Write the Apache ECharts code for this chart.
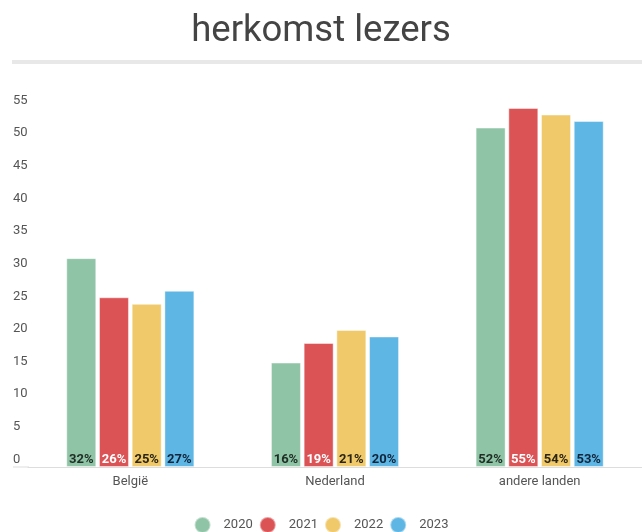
<!DOCTYPE html>
<html>
<head>
<meta charset="utf-8">
<script src="https://cdn.jsdelivr.net/npm/echarts@6/dist/echarts.min.js"></script>
<style>
  html, body { margin: 0; padding: 0; background: #fff; }
  #chart { width: 642px; height: 532px; }
</style>
</head>
<body>
<div id="chart"></div>
<script>
var categories = ['België', 'Nederland', 'andere landen'];
var years = ['2020', '2021', '2022', '2023'];
var values2020 = [32, 16, 52];
var values2021 = [26, 19, 55];
var values2022 = [25, 21, 54];
var values2023 = [27, 20, 53];
var yTicks = [0, 5, 10, 15, 20, 25, 30, 35, 40, 45, 50, 55];

var colors = ['#8fc4a6', '#dc5356', '#f0c96a', '#5db6e4'];
var labelColors = ['#1f2d24', '#ffffff', '#2a2410', '#10243a'];
var allValues = [values2020, values2021, values2022, values2023];

var chart = echarts.init(document.getElementById('chart'));

var series = [];
for (var i = 0; i < years.length; i++) {
    series.push({
        name: years[i],
        type: 'bar',
        data: allValues[i],
        barWidth: 30,
        barGap: '9%',
        itemStyle: {
            color: colors[i],
            borderColor: 'rgba(255,255,255,0.45)',
            borderWidth: 1
        },
        label: {
            show: true,
            position: 'insideBottom',
            distance: 1,
            formatter: '{c}%',
            color: labelColors[i],
            fontFamily: 'Roboto',
            fontWeight: 'bold',
            fontSize: 13
        }
    });
}

var option = {
    animation: false,
    color: colors,
    title: {
        text: 'herkomst lezers',
        left: 'center',
        top: 8,
        textStyle: {
            fontFamily: 'Roboto',
            fontWeight: 'normal',
            fontSize: 36.5,
            color: '#444'
        }
    },
    graphic: [
        { type: 'rect', shape: { x: 12, y: 60, width: 640, height: 4 }, style: { fill: '#e8e8e8' } },
        { type: 'line', shape: { x1: 13, y1: 467, x2: 29, y2: 467 }, style: { stroke: '#dddddd', lineWidth: 1 } }
    ],
    legend: {
        data: years,
        top: 516,
        left: 'center',
        padding: 0,
        icon: 'circle',
        itemWidth: 16,
        itemHeight: 16,
        itemGap: 6,
        textStyle: {
            fontFamily: 'Roboto',
            fontSize: 13,
            color: '#555',
            padding: [0, 0, 0, 8]
        }
    },
    grid: {
        left: 28,
        right: 0,
        top: 108,
        bottom: 65
    },
    xAxis: {
        type: 'category',
        data: categories,
        axisLine: { lineStyle: { color: '#dddddd' } },
        axisTick: { show: false },
        axisLabel: { fontFamily: 'Roboto', fontSize: 13, color: '#555', margin: 8 }
    },
    yAxis: {
        type: 'value',
        min: yTicks[0],
        max: yTicks[yTicks.length - 1],
        interval: 5,
        splitLine: { show: false },
        axisLine: { show: false },
        axisTick: { show: false },
        axisLabel: {
            fontFamily: 'Roboto',
            fontSize: 13,
            color: '#555',
            align: 'left',
            verticalAlign: 'bottom',
            padding: [0, 0, 1, 0],
            margin: 15
        }
    },
    series: series
};

chart.setOption(option);
</script>
</body>
</html>
